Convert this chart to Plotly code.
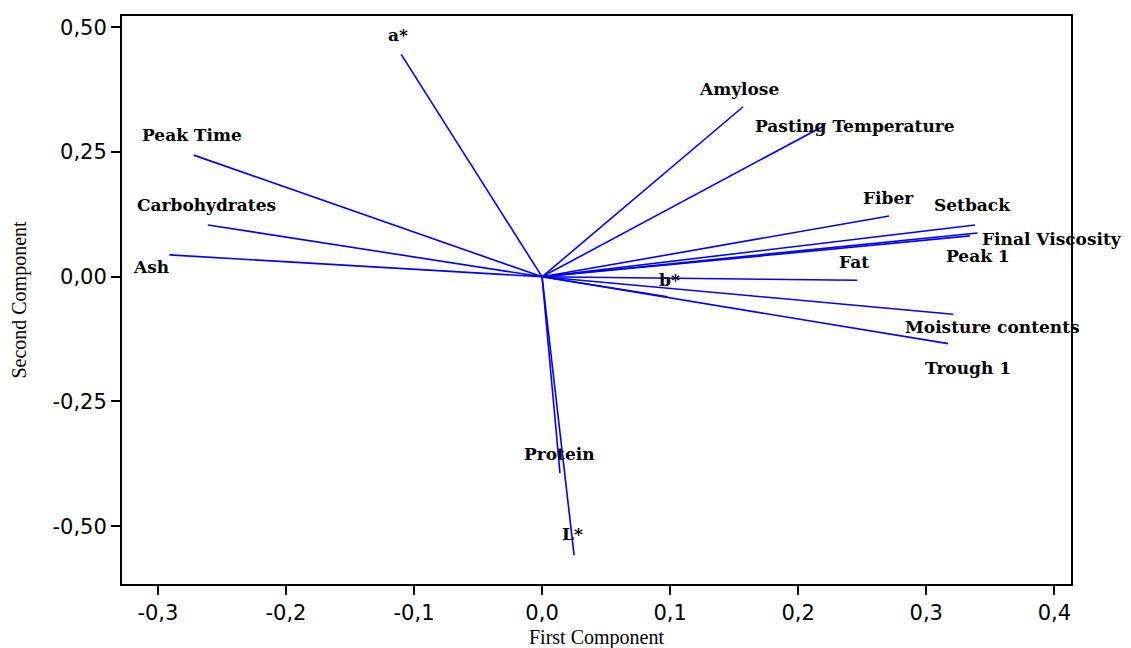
import plotly.graph_objects as go

# Loadings (First Component, Second Component)
variables = ["a*", "Peak Time", "Carbohydrates", "Ash", "Amylose", "Pasting Temperature",
             "Fiber", "Setback", "Final Viscosity", "Peak 1", "Fat", "b*",
             "Moisture contents", "Trough 1", "Protein", "L*"]
pc1 = [-0.110, -0.272, -0.261, -0.291, 0.157, 0.221,
       0.271, 0.338, 0.340, 0.334, 0.246, 0.098,
       0.321, 0.317, 0.014, 0.025]
pc2 = [0.446, 0.244, 0.104, 0.044, 0.341, 0.304,
       0.122, 0.104, 0.088, 0.082, -0.007, -0.040,
       -0.075, -0.134, -0.394, -0.558]

x_ticks = [-0.3, -0.2, -0.1, 0.0, 0.1, 0.2, 0.3, 0.4]
x_tick_labels = ["-0,3", "-0,2", "-0,1", "0,0", "0,1", "0,2", "0,3", "0,4"]
y_ticks = [-0.50, -0.25, 0.00, 0.25, 0.50]
y_tick_labels = ["-0,50", "-0,25", "0,00", "0,25", "0,50"]

# label offsets in pixels (xshift, yshift)
label_shift = {
    "a*": (-3, 19), "Peak Time": (-2, 20), "Carbohydrates": (-1, 20), "Ash": (-18, -12),
    "Amylose": (-4, 18), "Pasting Temperature": (30, -1), "Fiber": (-1, 18),
    "Setback": (-2, 20), "Final Viscosity": (74, -6), "Peak 1": (8, -20),
    "Fat": (-3, 18), "b*": (2, 17), "Moisture contents": (39, -13),
    "Trough 1": (20, -24), "Protein": (-1, 19), "L*": (-2, 21),
}

xs, ys = [], []
for a, b in zip(pc1, pc2):
    xs += [0, a, None]
    ys += [0, b, None]

fig = go.Figure()
fig.add_trace(go.Scatter(x=xs, y=ys, mode="lines",
                         line=dict(color="#0000ff", width=1.6),
                         hoverinfo="skip", showlegend=False))

for name, a, b in zip(variables, pc1, pc2):
    dx, dy = label_shift[name]
    fig.add_annotation(x=a, y=b, text=name, showarrow=False,
                       xshift=dx, yshift=dy,
                       font=dict(family="DejaVu Serif", size=17, color="#000000", weight="bold"))

axis_common = dict(showline=True, linecolor="black", linewidth=2, mirror=True,
                   ticks="outside", ticklen=9, tickwidth=1.5, tickcolor="black",
                   showgrid=False, zeroline=False,
                   tickfont=dict(family="DejaVu Sans", size=21, color="black"))

fig.update_layout(
    width=1131, height=648,
    margin=dict(l=114, r=68, t=8, b=72, autoexpand=False),
    paper_bgcolor="white", plot_bgcolor="white",
    xaxis=dict(range=[-0.328, 0.413], tickvals=x_ticks, ticktext=x_tick_labels,
               title=dict(text="First Component", standoff=6,
                          font=dict(family="Liberation Serif", size=20, color="black")),
               **axis_common),
    yaxis=dict(range=[-0.616, 0.523], tickvals=y_ticks, ticktext=y_tick_labels,
               title=dict(text="Second Component", standoff=24,
                          font=dict(family="Liberation Serif", size=20, color="black")),
               **axis_common),
)

fig.write_html("out.html")
